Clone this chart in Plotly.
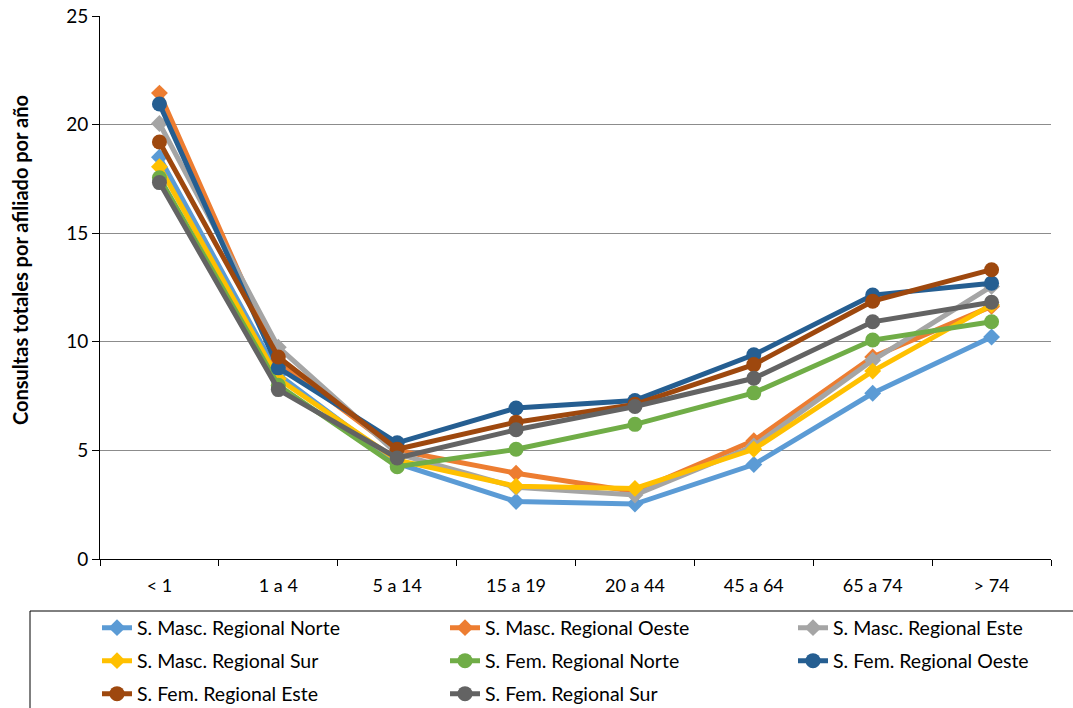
import plotly.graph_objects as go

# Age groups on the x axis
age_groups = ["< 1", "1 a 4", "5 a 14", "15 a 19", "20 a 44", "45 a 64", "65 a 74", "> 74"]

# Total consultations per affiliate per year, by sex and region
masc_norte = [18.5, 8.5, 4.4, 2.65, 2.53, 4.35, 7.63, 10.22]
masc_oeste = [21.45, 9.1, 5.0, 3.95, 3.1, 5.45, 9.3, 11.63]
masc_este = [20.05, 9.75, 4.85, 3.3, 2.95, 5.2, 9.15, 12.55]
masc_sur = [18.06, 8.3, 4.55, 3.35, 3.25, 5.05, 8.65, 11.7]
fem_norte = [17.55, 8.0, 4.25, 5.05, 6.2, 7.65, 10.08, 10.92]
fem_oeste = [20.95, 8.8, 5.35, 6.95, 7.3, 9.4, 12.15, 12.7]
fem_este = [19.2, 9.3, 5.05, 6.3, 7.12, 8.95, 11.87, 13.32]
fem_sur = [17.33, 7.8, 4.65, 5.95, 7.02, 8.32, 10.92, 11.82]

series_names = [
    "S. Masc. Regional Norte", "S. Masc. Regional Oeste", "S. Masc. Regional Este",
    "S. Masc. Regional Sur", "S. Fem. Regional Norte", "S. Fem. Regional Oeste",
    "S. Fem. Regional Este", "S. Fem. Regional Sur",
]
series_values = [masc_norte, masc_oeste, masc_este, masc_sur,
                 fem_norte, fem_oeste, fem_este, fem_sur]
colors = ["#5B9BD5", "#ED7D31", "#A5A5A5", "#FFC000",
          "#70AD47", "#255E91", "#9E480E", "#636363"]
symbols = ["diamond"] * 4 + ["circle"] * 4
sizes = [13] * 4 + [15] * 4

# Figure size and plot-area edges in pixels
W, H = 1073, 708
PL, PR, PT, PB = 100, 1051, 16, 559

# Legend entry anchors in pixels (left edge, vertical centre), three columns
legend_px = [(97, 628), (445, 628), (793, 628),
             (97, 661), (445, 661), (793, 661),
             (97, 694), (445, 694)]


def px_to_paper(x, y):
    return (x - PL) / (PR - PL), (PB - y) / (PB - PT)


FONT = "Lato"
fig = go.Figure()
layout_legends = {}
for i, (name, vals, col, sym, sz) in enumerate(zip(series_names, series_values, colors, symbols, sizes)):
    lg = "legend" if i == 0 else f"legend{i + 1}"
    fig.add_trace(go.Scatter(
        x=age_groups, y=vals, name=name, mode="lines+markers",
        line=dict(color=col, width=5),
        marker=dict(symbol=sym, size=sz, color=col),
        legend=lg,
    ))
    lx, ly = legend_px[i]
    layout_legends[lg] = dict(
        xref="container", yref="container",
        x=lx / W, y=1 - ly / H, xanchor="left", yanchor="middle",
        bgcolor="rgba(0,0,0,0)", borderwidth=0,
        font=dict(family=FONT, size=19.5, color="#000000"),
        itemsizing="trace",
    )

x0, y0 = px_to_paper(30, 611)
x1, y1 = px_to_paper(1085, 720)
tx, ty = px_to_paper(20, 260)

fig.update_layout(
    width=W, height=H,
    margin=dict(l=PL, r=W - PR, t=PT, b=H - PB, autoexpand=False),
    paper_bgcolor="white", plot_bgcolor="white",
    font=dict(family=FONT, size=16, color="#000000"),
    showlegend=True,
    xaxis=dict(
        type="category", range=[-0.5, 7.5],
        showline=True, linecolor="#000000", linewidth=1,
        ticks="outside", tickson="boundaries", ticklen=6, tickcolor="#000000",
        ticklabelstandoff=10,
        showgrid=False, zeroline=False,
        tickfont=dict(family=FONT, size=18, color="#000000"),
    ),
    yaxis=dict(
        range=[0, 25], dtick=5, tick0=0,
        showline=True, linecolor="#000000", linewidth=1,
        ticks="outside", ticklen=7, tickcolor="#000000",
        showgrid=True, gridcolor="#8C8C8C", gridwidth=1, zeroline=False,
        tickfont=dict(family=FONT, size=19, color="#000000"),
    ),
    annotations=[dict(
        text="<b>Consultas totales por afiliado por año</b>",
        xref="paper", yref="paper", x=tx, y=ty,
        xanchor="center", yanchor="middle", textangle=-90, showarrow=False,
        font=dict(family=FONT, size=20, color="#000000"),
    )],
    shapes=[dict(type="rect", xref="paper", yref="paper",
                 x0=x0, y0=y1, x1=x1, y1=y0,
                 line=dict(color="#000000", width=1), fillcolor="rgba(0,0,0,0)")],
    **layout_legends,
)

fig.write_html("out.html")
